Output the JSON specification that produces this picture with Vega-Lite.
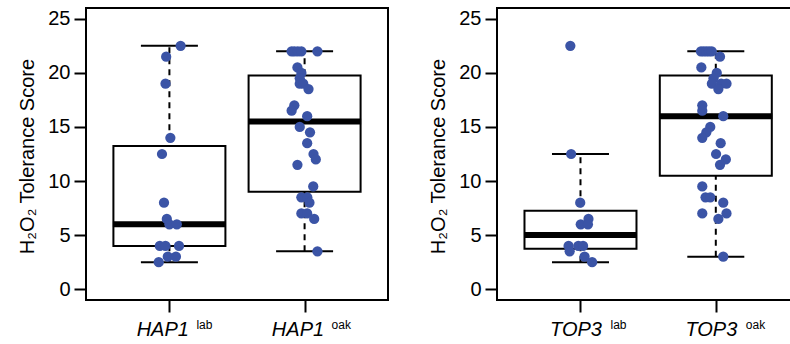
{
  "$schema": "https://vega.github.io/schema/vega-lite/v6.json",
  "autosize": {"type": "none"},
  "padding": {"left": 86, "top": 8, "right": 704, "bottom": 336},
  "background": "white",
  "datasets": {
    "box": [
      {"gene": "HAP1", "strain": "lab", "group": 1, "lower": 2.5, "q1": 4, "median": 6, "q3": 13.25, "upper": 22.5},
      {"gene": "HAP1", "strain": "oak", "group": 2, "lower": 3.5, "q1": 9, "median": 15.5, "q3": 19.75, "upper": 22},
      {"gene": "TOP3", "strain": "lab", "group": 1, "lower": 2.5, "q1": 3.75, "median": 5, "q3": 7.25, "upper": 12.5},
      {"gene": "TOP3", "strain": "oak", "group": 2, "lower": 3, "q1": 10.5, "median": 16, "q3": 19.75, "upper": 22}
    ],
    "pts": [
      {"gene": "HAP1", "strain": "lab", "jitter": 1.083, "score": 22.5},
      {"gene": "HAP1", "strain": "lab", "jitter": 0.976, "score": 21.5},
      {"gene": "HAP1", "strain": "lab", "jitter": 0.971, "score": 19},
      {"gene": "HAP1", "strain": "lab", "jitter": 1.007, "score": 14},
      {"gene": "HAP1", "strain": "lab", "jitter": 0.945, "score": 12.5},
      {"gene": "HAP1", "strain": "lab", "jitter": 0.96, "score": 8},
      {"gene": "HAP1", "strain": "lab", "jitter": 0.981, "score": 6.5},
      {"gene": "HAP1", "strain": "lab", "jitter": 1.0, "score": 6},
      {"gene": "HAP1", "strain": "lab", "jitter": 1.055, "score": 6},
      {"gene": "HAP1", "strain": "lab", "jitter": 0.929, "score": 4},
      {"gene": "HAP1", "strain": "lab", "jitter": 0.971, "score": 4},
      {"gene": "HAP1", "strain": "lab", "jitter": 1.071, "score": 4},
      {"gene": "HAP1", "strain": "lab", "jitter": 0.988, "score": 3},
      {"gene": "HAP1", "strain": "lab", "jitter": 1.048, "score": 3},
      {"gene": "HAP1", "strain": "lab", "jitter": 0.921, "score": 2.5},

      {"gene": "HAP1", "strain": "oak", "jitter": 1.904, "score": 22},
      {"gene": "HAP1", "strain": "oak", "jitter": 1.925, "score": 22},
      {"gene": "HAP1", "strain": "oak", "jitter": 1.95, "score": 22},
      {"gene": "HAP1", "strain": "oak", "jitter": 1.976, "score": 22},
      {"gene": "HAP1", "strain": "oak", "jitter": 2.095, "score": 22},
      {"gene": "HAP1", "strain": "oak", "jitter": 1.947, "score": 20.5},
      {"gene": "HAP1", "strain": "oak", "jitter": 1.976, "score": 20},
      {"gene": "HAP1", "strain": "oak", "jitter": 1.964, "score": 19.5},
      {"gene": "HAP1", "strain": "oak", "jitter": 1.964, "score": 19},
      {"gene": "HAP1", "strain": "oak", "jitter": 1.99, "score": 19},
      {"gene": "HAP1", "strain": "oak", "jitter": 2.029, "score": 18.5},
      {"gene": "HAP1", "strain": "oak", "jitter": 1.924, "score": 17},
      {"gene": "HAP1", "strain": "oak", "jitter": 1.904, "score": 16.5},
      {"gene": "HAP1", "strain": "oak", "jitter": 2.019, "score": 16},
      {"gene": "HAP1", "strain": "oak", "jitter": 1.964, "score": 15},
      {"gene": "HAP1", "strain": "oak", "jitter": 2.04, "score": 14.5},
      {"gene": "HAP1", "strain": "oak", "jitter": 2.019, "score": 13.5},
      {"gene": "HAP1", "strain": "oak", "jitter": 2.066, "score": 12.5},
      {"gene": "HAP1", "strain": "oak", "jitter": 2.083, "score": 12},
      {"gene": "HAP1", "strain": "oak", "jitter": 1.947, "score": 11.5},
      {"gene": "HAP1", "strain": "oak", "jitter": 2.064, "score": 9.5},
      {"gene": "HAP1", "strain": "oak", "jitter": 1.976, "score": 8.5},
      {"gene": "HAP1", "strain": "oak", "jitter": 2.02, "score": 8.5},
      {"gene": "HAP1", "strain": "oak", "jitter": 2.036, "score": 8},
      {"gene": "HAP1", "strain": "oak", "jitter": 1.976, "score": 7},
      {"gene": "HAP1", "strain": "oak", "jitter": 2.019, "score": 7},
      {"gene": "HAP1", "strain": "oak", "jitter": 2.071, "score": 6.5},
      {"gene": "HAP1", "strain": "oak", "jitter": 2.095, "score": 3.5},

      {"gene": "TOP3", "strain": "lab", "jitter": 0.925, "score": 22.5},
      {"gene": "TOP3", "strain": "lab", "jitter": 0.931, "score": 12.5},
      {"gene": "TOP3", "strain": "lab", "jitter": 0.998, "score": 8},
      {"gene": "TOP3", "strain": "lab", "jitter": 1.059, "score": 6.5},
      {"gene": "TOP3", "strain": "lab", "jitter": 1.002, "score": 6},
      {"gene": "TOP3", "strain": "lab", "jitter": 1.055, "score": 6},
      {"gene": "TOP3", "strain": "lab", "jitter": 0.912, "score": 4},
      {"gene": "TOP3", "strain": "lab", "jitter": 0.984, "score": 4},
      {"gene": "TOP3", "strain": "lab", "jitter": 1.019, "score": 4},
      {"gene": "TOP3", "strain": "lab", "jitter": 0.92, "score": 3.5},
      {"gene": "TOP3", "strain": "lab", "jitter": 1.03, "score": 3},
      {"gene": "TOP3", "strain": "lab", "jitter": 1.086, "score": 2.5},

      {"gene": "TOP3", "strain": "oak", "jitter": 1.89, "score": 22},
      {"gene": "TOP3", "strain": "oak", "jitter": 1.91, "score": 22},
      {"gene": "TOP3", "strain": "oak", "jitter": 1.93, "score": 22},
      {"gene": "TOP3", "strain": "oak", "jitter": 1.95, "score": 22},
      {"gene": "TOP3", "strain": "oak", "jitter": 1.97, "score": 22},
      {"gene": "TOP3", "strain": "oak", "jitter": 2.031, "score": 21.5},
      {"gene": "TOP3", "strain": "oak", "jitter": 1.893, "score": 20.5},
      {"gene": "TOP3", "strain": "oak", "jitter": 2.007, "score": 20},
      {"gene": "TOP3", "strain": "oak", "jitter": 1.983, "score": 19.5},
      {"gene": "TOP3", "strain": "oak", "jitter": 1.971, "score": 19},
      {"gene": "TOP3", "strain": "oak", "jitter": 2.04, "score": 19},
      {"gene": "TOP3", "strain": "oak", "jitter": 2.079, "score": 19},
      {"gene": "TOP3", "strain": "oak", "jitter": 2.019, "score": 18.5},
      {"gene": "TOP3", "strain": "oak", "jitter": 1.9, "score": 17},
      {"gene": "TOP3", "strain": "oak", "jitter": 1.9, "score": 16.5},
      {"gene": "TOP3", "strain": "oak", "jitter": 2.055, "score": 16},
      {"gene": "TOP3", "strain": "oak", "jitter": 1.959, "score": 15},
      {"gene": "TOP3", "strain": "oak", "jitter": 1.93, "score": 14.5},
      {"gene": "TOP3", "strain": "oak", "jitter": 1.9, "score": 14},
      {"gene": "TOP3", "strain": "oak", "jitter": 2.036, "score": 13.5},
      {"gene": "TOP3", "strain": "oak", "jitter": 2.002, "score": 12.5},
      {"gene": "TOP3", "strain": "oak", "jitter": 2.074, "score": 12},
      {"gene": "TOP3", "strain": "oak", "jitter": 2.031, "score": 11.5},
      {"gene": "TOP3", "strain": "oak", "jitter": 1.9, "score": 9.5},
      {"gene": "TOP3", "strain": "oak", "jitter": 1.924, "score": 8.5},
      {"gene": "TOP3", "strain": "oak", "jitter": 1.959, "score": 8.5},
      {"gene": "TOP3", "strain": "oak", "jitter": 2.055, "score": 8},
      {"gene": "TOP3", "strain": "oak", "jitter": 1.9, "score": 7},
      {"gene": "TOP3", "strain": "oak", "jitter": 2.079, "score": 7},
      {"gene": "TOP3", "strain": "oak", "jitter": 2.019, "score": 6.5},
      {"gene": "TOP3", "strain": "oak", "jitter": 2.055, "score": 3}
    ]
  },
  "hconcat": [
    {
      "width": 302,
      "height": 292,
      "layer": [
        {
          "data": {"name": "box"},
          "transform": [{"filter": "datum.gene === 'HAP1'"}],
          "mark": {"type": "rule", "strokeDash": [6, 5], "strokeWidth": 2, "color": "black"},
          "encoding": {
            "x": {"field": "group", "type": "quantitative", "scale": {"domain": [0.42, 2.58], "nice": false, "zero": false}, "title": null, "axis": {"values": [1, 2], "labelExpr": "'HAP1'", "labelAlign": "right", "labelOffset": 19, "labelPadding": 7, "labelBaseline": "top", "labelFontStyle": "italic"}},
            "y": {"field": "lower", "type": "quantitative", "scale": {"domain": [-1, 26], "nice": false, "zero": false}, "title": "H₂O₂ Tolerance Score", "axis": {"values": [0, 5, 10, 15, 20, 25], "titleX": -53, "titleY": 148}},
            "y2": {"field": "upper"}
          }
        },
        {
          "data": {"name": "box"},
          "transform": [{"filter": "datum.gene === 'HAP1'"}],
          "mark": {"type": "tick", "orient": "horizontal", "size": 57, "thickness": 2, "color": "black", "opacity": 1},
          "encoding": {
            "x": {"field": "group", "type": "quantitative", "title": null},
            "y": {"field": "lower", "type": "quantitative", "title": "H₂O₂ Tolerance Score"}
          }
        },
        {
          "data": {"name": "box"},
          "transform": [{"filter": "datum.gene === 'HAP1'"}],
          "mark": {"type": "tick", "orient": "horizontal", "size": 57, "thickness": 2, "color": "black", "opacity": 1},
          "encoding": {
            "x": {"field": "group", "type": "quantitative", "title": null},
            "y": {"field": "upper", "type": "quantitative", "title": "H₂O₂ Tolerance Score"}
          }
        },
        {
          "data": {"name": "box"},
          "transform": [{"filter": "datum.gene === 'HAP1'"}],
          "mark": {"type": "bar", "width": 112, "fill": "white", "stroke": "black", "strokeWidth": 2, "opacity": 1},
          "encoding": {
            "x": {"field": "group", "type": "quantitative", "title": null},
            "y": {"field": "q1", "type": "quantitative", "title": "H₂O₂ Tolerance Score"},
            "y2": {"field": "q3"}
          }
        },
        {
          "data": {"name": "box"},
          "transform": [{"filter": "datum.gene === 'HAP1'"}],
          "mark": {"type": "tick", "orient": "horizontal", "size": 113, "thickness": 6, "color": "black", "opacity": 1},
          "encoding": {
            "x": {"field": "group", "type": "quantitative", "title": null},
            "y": {"field": "median", "type": "quantitative", "title": "H₂O₂ Tolerance Score"}
          }
        },
        {
          "data": {"name": "pts"},
          "transform": [{"filter": "datum.gene === 'HAP1'"}],
          "mark": {"type": "circle", "size": 105, "color": "#3B54A6", "opacity": 1},
          "encoding": {
            "x": {"field": "jitter", "type": "quantitative", "title": null},
            "y": {"field": "score", "type": "quantitative", "title": "H₂O₂ Tolerance Score"}
          }
        },
        {
          "data": {"name": "box"},
          "transform": [{"filter": "datum.gene === 'HAP1'"}],
          "mark": {"type": "text", "font": "Liberation Sans", "fontSize": 12, "align": "left", "baseline": "alphabetic", "dx": 27, "dy": 29, "color": "black"},
          "encoding": {
            "x": {"field": "group", "type": "quantitative", "title": null},
            "y": {"value": "height"},
            "text": {"field": "strain"}
          }
        }
      ]
    },
    {
      "width": 310,
      "height": 292,
      "layer": [
        {
          "data": {"name": "box"},
          "transform": [{"filter": "datum.gene === 'TOP3'"}],
          "mark": {"type": "rule", "strokeDash": [6, 5], "strokeWidth": 2, "color": "black"},
          "encoding": {
            "x": {"field": "group", "type": "quantitative", "scale": {"domain": [0.42, 2.637], "nice": false, "zero": false}, "title": null, "axis": {"values": [1, 2], "labelExpr": "'TOP3'", "labelAlign": "right", "labelOffset": 21, "labelPadding": 7, "labelBaseline": "top", "labelFontStyle": "italic"}},
            "y": {"field": "lower", "type": "quantitative", "scale": {"domain": [-1, 26], "nice": false, "zero": false}, "title": "H₂O₂ Tolerance Score", "axis": {"values": [0, 5, 10, 15, 20, 25], "titleX": -53, "titleY": 148}},
            "y2": {"field": "upper"}
          }
        },
        {
          "data": {"name": "box"},
          "transform": [{"filter": "datum.gene === 'TOP3'"}],
          "mark": {"type": "tick", "orient": "horizontal", "size": 57, "thickness": 2, "color": "black", "opacity": 1},
          "encoding": {
            "x": {"field": "group", "type": "quantitative", "title": null},
            "y": {"field": "lower", "type": "quantitative", "title": "H₂O₂ Tolerance Score"}
          }
        },
        {
          "data": {"name": "box"},
          "transform": [{"filter": "datum.gene === 'TOP3'"}],
          "mark": {"type": "tick", "orient": "horizontal", "size": 57, "thickness": 2, "color": "black", "opacity": 1},
          "encoding": {
            "x": {"field": "group", "type": "quantitative", "title": null},
            "y": {"field": "upper", "type": "quantitative", "title": "H₂O₂ Tolerance Score"}
          }
        },
        {
          "data": {"name": "box"},
          "transform": [{"filter": "datum.gene === 'TOP3'"}],
          "mark": {"type": "bar", "width": 112, "fill": "white", "stroke": "black", "strokeWidth": 2, "opacity": 1},
          "encoding": {
            "x": {"field": "group", "type": "quantitative", "title": null},
            "y": {"field": "q1", "type": "quantitative", "title": "H₂O₂ Tolerance Score"},
            "y2": {"field": "q3"}
          }
        },
        {
          "data": {"name": "box"},
          "transform": [{"filter": "datum.gene === 'TOP3'"}],
          "mark": {"type": "tick", "orient": "horizontal", "size": 113, "thickness": 6, "color": "black", "opacity": 1},
          "encoding": {
            "x": {"field": "group", "type": "quantitative", "title": null},
            "y": {"field": "median", "type": "quantitative", "title": "H₂O₂ Tolerance Score"}
          }
        },
        {
          "data": {"name": "pts"},
          "transform": [{"filter": "datum.gene === 'TOP3'"}],
          "mark": {"type": "circle", "size": 105, "color": "#3B54A6", "opacity": 1},
          "encoding": {
            "x": {"field": "jitter", "type": "quantitative", "title": null},
            "y": {"field": "score", "type": "quantitative", "title": "H₂O₂ Tolerance Score"}
          }
        },
        {
          "data": {"name": "box"},
          "transform": [{"filter": "datum.gene === 'TOP3'"}],
          "mark": {"type": "text", "font": "Liberation Sans", "fontSize": 12, "align": "left", "baseline": "alphabetic", "dx": 30, "dy": 29, "color": "black"},
          "encoding": {
            "x": {"field": "group", "type": "quantitative", "title": null},
            "y": {"value": "height"},
            "text": {"field": "strain"}
          }
        }
      ]
    }
  ],
  "spacing": 109,
  "bounds": "flush",
  "config": {
    "view": {"stroke": "black", "strokeWidth": 2, "fill": "white"},
    "axis": {
      "domain": false, "grid": false, "ticks": true, "tickSize": 12, "tickWidth": 2, "tickColor": "black",
      "labelFont": "Liberation Sans", "labelFontSize": 20, "labelColor": "black", "labelFlush": false, "labelOverlap": false,
      "titleFont": "Liberation Sans", "titleFontSize": 20, "titleFontWeight": "normal", "titleColor": "black"
    },
    "axisY": {"labelPadding": 4, "titleAngle": -90, "titleBaseline": "alphabetic", "titleAlign": "center"}
  }
}
